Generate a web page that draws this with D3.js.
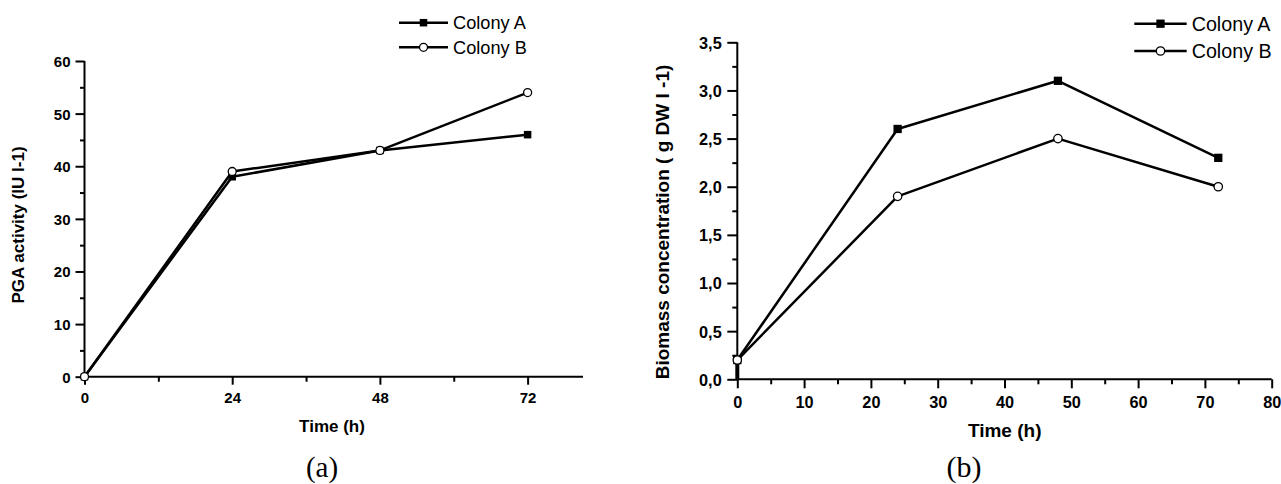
<!DOCTYPE html>
<html><head><meta charset="utf-8">
<script src="https://cdn.jsdelivr.net/npm/d3@7"></script>
<style>
body{margin:0;background:#fff;}
svg{display:block;}
text{font-family:"Liberation Sans",Arial,sans-serif;fill:#000;}
</style></head>
<body>
<svg id="chart" width="1281" height="484"></svg>
<script>
// ---- Data ----
const timeA = [0, 24, 48, 72];
const pgaColonyA = [0, 38, 43, 46];
const pgaColonyB = [0, 39, 43, 54];
const pgaXTicks = [0, 24, 48, 72];
const pgaXMinor = [12, 36, 60];
const pgaYTicks = [0, 10, 20, 30, 40, 50, 60];
const pgaYMinor = [5, 15, 25, 35, 45, 55];

const timeB = [0, 24, 48, 72];
const bioColonyA = [0.2, 2.6, 3.1, 2.3];
const bioColonyB = [0.2, 1.9, 2.5, 2.0];
const bioXTicks = [0, 10, 20, 30, 40, 50, 60, 70, 80];
const bioXMinor = [5, 15, 25, 35, 45, 55, 65, 75];
const bioYTicks = [0, 0.5, 1.0, 1.5, 2.0, 2.5, 3.0, 3.5];
const bioYMinor = [0.25, 0.75, 1.25, 1.75, 2.25, 2.75, 3.25];

const seriesNames = ["Colony A", "Colony B"];

const svg = d3.select("#chart");
const SANS = '"Liberation Sans",Arial,sans-serif';

function drawPanel(cfg) {
  const g = svg.append("g");
  const x = d3.scaleLinear().domain(cfg.xDomain).range([cfg.left, cfg.right]);
  const y = d3.scaleLinear().domain(cfg.yDomain).range([cfg.bottom, cfg.top]);

  // minor ticks
  g.append("g").attr("transform", `translate(0,${cfg.bottom})`)
    .call(d3.axisBottom(x).tickValues(cfg.xMinor).tickSize(cfg.xMinorLen).tickFormat(""))
    .call(a => a.select(".domain").remove())
    .call(a => a.selectAll("line").attr("stroke-width", 2));
  g.append("g").attr("transform", `translate(${cfg.left},0)`)
    .call(d3.axisLeft(y).tickValues(cfg.yMinor).tickSize(cfg.yMinorLen).tickFormat(""))
    .call(a => a.select(".domain").remove())
    .call(a => a.selectAll("line").attr("stroke-width", 2));

  // major axes
  const xa = g.append("g").attr("transform", `translate(0,${cfg.bottom})`)
    .attr("font-family", SANS)
    .call(d3.axisBottom(x).tickValues(cfg.xTicks).tickSize(cfg.xMajorLen).tickSizeOuter(0).tickFormat(cfg.xFmt));
  xa.attr("font-family", SANS);
  xa.select(".domain").attr("stroke-width", 2).attr("d", `M${cfg.left},0H${cfg.right}`);
  xa.selectAll("line").attr("stroke-width", 2);
  xa.selectAll("text").attr("y", cfg.xLabelBase).attr("dy", 0)
    .style("font-size", cfg.tickFont + "px").style("font-weight", "bold")
    .style("font-family", SANS).attr("fill", "#000");

  const ya = g.append("g").attr("transform", `translate(${cfg.left},0)`)
    .call(d3.axisLeft(y).tickValues(cfg.yTicks).tickSize(cfg.yMajorLen).tickSizeOuter(0).tickFormat(cfg.yFmt));
  ya.attr("font-family", SANS);
  ya.select(".domain").attr("stroke-width", 2).attr("d", `M0,${cfg.bottom}V${cfg.top}`);
  ya.selectAll("line").attr("stroke-width", 2);
  ya.selectAll("text").attr("x", -cfg.yLabelGap).attr("dy", "0.36em")
    .style("font-size", cfg.tickFont + "px").style("font-weight", "bold")
    .style("font-family", SANS).attr("fill", "#000");

  // axis titles
  g.append("text").attr("x", cfg.xTitleX).attr("y", cfg.xTitleY)
    .attr("text-anchor", "middle").style("font-size", cfg.titleFont + "px")
    .style("font-weight", "bold").text(cfg.xTitle);
  g.append("text").attr("transform", `translate(${cfg.yTitleX},${cfg.yTitleY}) rotate(-90)`)
    .attr("text-anchor", "middle").style("font-size", cfg.titleFont + "px")
    .style("font-weight", "bold").text(cfg.yTitle);

  // optional thick start segment on the y axis (from 0 to the first value)
  if (cfg.startBar) {
    g.append("line").attr("x1", x(cfg.time[0])).attr("x2", x(cfg.time[0]))
      .attr("y1", y(0)).attr("y2", y(cfg.a[0]))
      .attr("stroke", "#000").attr("stroke-width", 4);
  }

  // lines
  const line = d3.line().x(d => x(d[0])).y(d => y(d[1]));
  const dataA = cfg.time.map((t, i) => [t, cfg.a[i]]);
  const dataB = cfg.time.map((t, i) => [t, cfg.b[i]]);
  [dataA, dataB].forEach(d => {
    g.append("path").datum(d).attr("d", line).attr("fill", "none")
      .attr("stroke", "#000").attr("stroke-width", 2.5).attr("stroke-linejoin", "round");
  });
  // markers
  const s = cfg.sq;
  g.selectAll(null).data(dataA).enter().append("rect")
    .attr("x", d => x(d[0]) - s / 2).attr("y", d => y(d[1]) - s / 2)
    .attr("width", s).attr("height", s).attr("fill", "#000");
  g.selectAll(null).data(dataB).enter().append("circle")
    .attr("cx", d => x(d[0])).attr("cy", d => y(d[1])).attr("r", cfg.cr)
    .attr("fill", "#fff").attr("stroke", "#000").attr("stroke-width", 1.3);

  // legend
  const lg = g.append("g");
  seriesNames.forEach((name, i) => {
    const ly = cfg.legY[i];
    lg.append("line").attr("x1", cfg.legX1).attr("x2", cfg.legX2).attr("y1", ly).attr("y2", ly)
      .attr("stroke", "#000").attr("stroke-width", 2.5);
    const mx = (cfg.legX1 + cfg.legX2) / 2;
    if (i === 0) {
      lg.append("rect").attr("x", mx - s / 2).attr("y", ly - s / 2).attr("width", s).attr("height", s).attr("fill", "#000");
    } else {
      lg.append("circle").attr("cx", mx).attr("cy", ly).attr("r", cfg.cr)
        .attr("fill", "#fff").attr("stroke", "#000").attr("stroke-width", 1.3);
    }
    lg.append("text").attr("x", cfg.legTextX).attr("y", ly + cfg.legFont * 0.37)
      .style("font-size", cfg.legFont + "px").text(name);
  });

  // panel caption
  g.append("text").attr("x", cfg.capX).attr("y", cfg.capY).attr("text-anchor", "middle")
    .style("font-family", '"Liberation Serif","Times New Roman",serif')
    .style("font-size", cfg.capFont + "px").text(cfg.caption);
}

const commaFmt = v => d3.format(".1f")(v).replace(".", ",");

drawPanel({
  xDomain: [0, 81], yDomain: [0, 60],
  left: 84.5, right: 583, top: 61, bottom: 376.7,
  xTicks: pgaXTicks, xMinor: pgaXMinor, yTicks: pgaYTicks, yMinor: pgaYMinor,
  xFmt: d3.format("d"), yFmt: d3.format("d"),
  xMajorLen: 8, xMinorLen: 5, yMajorLen: 9, yMinorLen: 4.5,
  xLabelBase: 26, yLabelGap: 14, tickFont: 15,
  xTitle: "Time (h)", xTitleX: 332, xTitleY: 432,
  yTitle: "PGA activity (IU l-1)", yTitleX: 24, yTitleY: 225, titleFont: 17,
  time: timeA, a: pgaColonyA, b: pgaColonyB,
  sq: 7.5, cr: 4,
  legX1: 399, legX2: 448, legY: [22.7, 47.3], legTextX: 453, legFont: 18.2,
  caption: "(a)", capX: 322, capY: 477, capFont: 29
});

drawPanel({
  xDomain: [0, 80], yDomain: [0, 3.5],
  left: 737.3, right: 1271.7, top: 42.3, bottom: 379.3,
  xTicks: bioXTicks, xMinor: bioXMinor, yTicks: bioYTicks, yMinor: bioYMinor,
  xFmt: d3.format("d"), yFmt: commaFmt,
  xMajorLen: 9, xMinorLen: 5, yMajorLen: 10, yMinorLen: 5,
  xLabelBase: 28.7, yLabelGap: 15.6, tickFont: 16.3,
  xTitle: "Time (h)", xTitleX: 1004.7, xTitleY: 437,
  yTitle: "Biomass concentration ( g DW l -1)", yTitleX: 669, yTitleY: 222, titleFont: 19,
  time: timeB, a: bioColonyA, b: bioColonyB, startBar: true,
  sq: 8.3, cr: 4.2,
  legX1: 1134.3, legX2: 1186.7, legY: [23.7, 51], legTextX: 1191.7, legFont: 19.7,
  caption: "(b)", capX: 964, capY: 477, capFont: 30
});
</script>
</body></html>
